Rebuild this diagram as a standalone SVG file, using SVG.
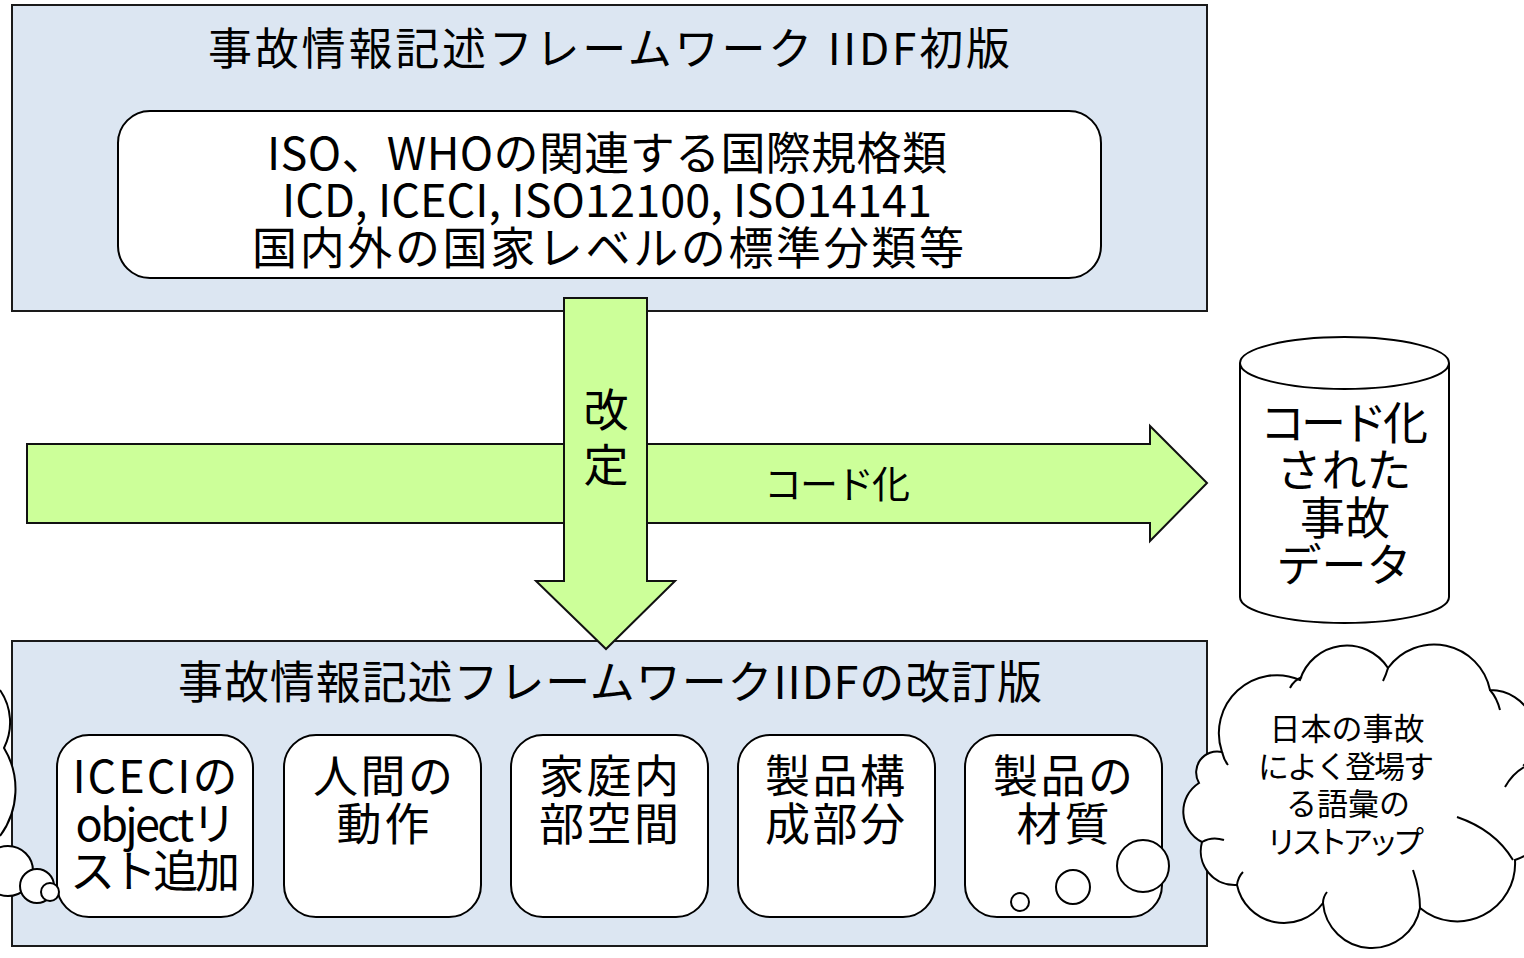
<svg xmlns="http://www.w3.org/2000/svg" width="1524" height="958" viewBox="0 0 1524 958">
<style>
.frame{fill:#DCE6F2;stroke:#1a1a1a;stroke-width:2}
.box{fill:#fff;stroke:#000;stroke-width:2}
.arrow{fill:#CCFF99;stroke:#111;stroke-width:2}
.line{fill:none;stroke:#000;stroke-width:2}
.t{font-family:"Noto Sans CJK JP","Noto Sans",sans-serif;fill:#000;text-anchor:middle}
.f44{font-size:44px}
.f46{font-size:45px}
.f38{font-size:38px}
.f31{font-size:31px}
</style>
<rect width="1524" height="958" fill="#fff"/>
<g id="top-frame">
<rect class="frame" x="12" y="5" width="1195" height="306"/>
<text class="t f44" x="609" y="65" textLength="802">事故情報記述フレームワーク IIDF初版</text>
</g>
<g id="top-standards">
<rect class="box" x="118" y="111" width="983" height="167" rx="32" ry="32"/>
<text class="t f46" x="607" y="170" textLength="680">ISO、WHOの関連する国際規格類</text>
<text class="t f46" x="607" y="217" textLength="650">ICD, ICECI, ISO12100, ISO14141</text>
<text class="t f46" x="608" y="265" textLength="712">国内外の国家レベルの標準分類等</text>
</g>
<g id="bottom-frame">
<rect class="frame" x="12" y="641" width="1195" height="305"/>
<text class="t f46" x="610" y="699" textLength="864">事故情報記述フレームワークIIDFの改訂版</text>
</g>
<g id="box-iceci">
<rect class="box" x="57" y="735" width="196" height="182" rx="32" ry="32"/>
<text class="t f46" x="155" y="793" textLength="165">ICECIの</text>
<text class="t f46" x="156" y="841" textLength="161">objectリ</text>
<text class="t f46" x="155" y="888" textLength="170">スト追加</text>
</g>
<g id="box-human">
<rect class="box" x="284" y="735" width="197" height="182" rx="32" ry="32"/>
<text class="t f46" x="383" y="793" textLength="140">人間の</text>
<text class="t f46" x="383" y="841" textLength="93">動作</text>
</g>
<g id="box-home">
<rect class="box" x="511" y="735" width="197" height="182" rx="32" ry="32"/>
<text class="t f46" x="609" y="793" textLength="140">家庭内</text>
<text class="t f46" x="609" y="841" textLength="140">部空間</text>
</g>
<g id="box-product">
<rect class="box" x="738" y="735" width="197" height="182" rx="32" ry="32"/>
<text class="t f46" x="835" y="793" textLength="140">製品構</text>
<text class="t f46" x="835" y="841" textLength="140">成部分</text>
</g>
<g id="box-material">
<rect class="box" x="965" y="735" width="197" height="182" rx="32" ry="32"/>
<text class="t f46" x="1063" y="793" textLength="140">製品の</text>
<text class="t f46" x="1063" y="841" textLength="93">材質</text>
</g>
<g id="connectors">
<g id="arrow-code">
<path class="arrow" d="M27,444 H1150 V426 L1207,483 L1150,541 V523 H27 Z"/>
<text class="t f38" x="837" y="498" textLength="146">コード化</text>
</g>
<g id="arrow-revise">
<path class="arrow" d="M564,298 H647 V581 H675 L606,649 L536,581 H564 Z"/>
<text class="t f46" x="606" y="427">改</text>
<text class="t f46" x="606" y="482">定</text>
</g>
</g>
<g id="cylinder">
<path class="box" d="M1240,363 A104.5,26 0 0 1 1449,363 V597 A104.5,26 0 0 1 1240,597 Z"/>
<path class="line" d="M1240,363 A104.5,26 0 0 0 1449,363"/>
<text class="t f46" x="1344" y="440" textLength="168">コード化</text>
<text class="t f46" x="1344" y="487">された</text>
<text class="t f46" x="1345" y="535">事故</text>
<text class="t f46" x="1344" y="582">データ</text>
</g>
<g id="cloud-left">
<path fill="#fff" d="M0,690 A57,57 0 0 1 4,748 A79,79 0 0 1 0,836 Z"/>
<path class="line" d="M0,690 A57,57 0 0 1 4,748 A79,79 0 0 1 0,836"/>
<circle class="box" cx="8" cy="871" r="25"/>
<circle class="box" cx="37" cy="886" r="17"/>
<circle class="box" cx="50" cy="892" r="9"/>
</g>
<g id="cloud-right">
<circle class="box" cx="1143" cy="866" r="26"/>
<circle class="box" cx="1073" cy="887" r="17"/>
<circle class="box" cx="1020" cy="902" r="9"/>
<path class="box" d="M1222,752 A58,58 0 0 1 1300,680 A49,49 0 0 1 1388,668 A57,57 0 0 1 1490,690 A45,45 0 0 1 1524,765 A52,52 0 0 1 1515,860 A58,58 0 0 1 1420,908 A49,49 0 0 1 1323,903 A48,48 0 0 1 1237,885 A34,34 0 0 1 1202,842 A34,34 0 0 1 1199,783 A21,21 0 0 1 1222,752 Z"/>
<path class="line" d="M1302,677 Q1294,680 1290,688 M1388,668 Q1386,675 1383,681 M1490,690 Q1497,698 1500,710 M1524,767 Q1512,774 1505,787 M1457,817 Q1495,830 1513,860 M1413,870 Q1420,890 1420,908 M1323,903 Q1323,897 1327,892 M1237,885 Q1238,877 1243,872 M1202,842 Q1212,836 1224,840 M1222,752 Q1224,760 1228,765"/>
<text class="t f31" x="1347" y="740">日本の事故</text>
<text class="t f31" x="1346" y="778" textLength="176">によく登場す</text>
<text class="t f31" x="1348" y="815">る語彙の</text>
<text class="t f31" x="1345" y="853" textLength="158">リストアップ</text>
</g>
</svg>
